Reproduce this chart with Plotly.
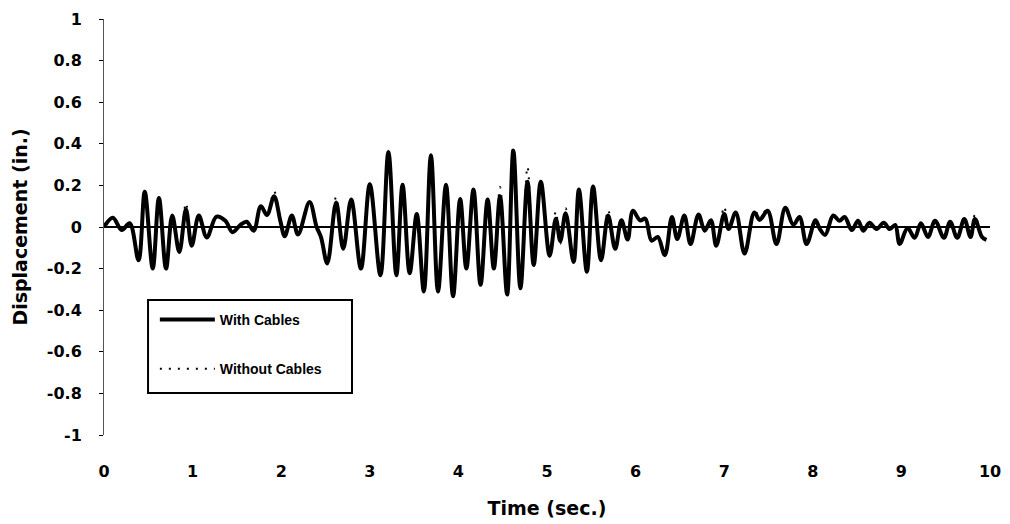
import plotly.graph_objects as go

# ---- data ----
time_s = [0.00, 0.10, 0.20, 0.29, 0.39, 0.46, 0.55, 0.62, 0.70, 0.77, 0.85, 0.925, 0.99, 1.07, 1.16,
          1.27, 1.37, 1.45, 1.54, 1.61, 1.69, 1.77, 1.84, 1.92, 1.99, 2.04, 2.12, 2.19, 2.32, 2.40,
          2.45, 2.52, 2.62, 2.70, 2.79, 2.90, 3.00, 3.12, 3.21, 3.30, 3.37, 3.45, 3.53, 3.61, 3.69,
          3.77, 3.86, 3.94, 4.02, 4.09, 4.17, 4.25, 4.33, 4.40, 4.47, 4.55, 4.62, 4.70, 4.78, 4.85,
          4.93, 5.03, 5.10, 5.15, 5.21, 5.30, 5.36, 5.45, 5.52, 5.61, 5.69, 5.77, 5.84, 5.91, 5.97,
          6.05, 6.11, 6.18, 6.25, 6.33, 6.41, 6.47, 6.55, 6.62, 6.71, 6.78, 6.85, 6.91, 7.00, 7.05,
          7.13, 7.23, 7.34, 7.40, 7.49, 7.59, 7.69, 7.78, 7.85, 7.93, 8.03, 8.08, 8.14, 8.23, 8.30,
          8.36, 8.44, 8.51, 8.57, 8.64, 8.72, 8.80, 8.87, 8.93, 8.98, 9.07, 9.15, 9.22, 9.30, 9.38,
          9.48, 9.55, 9.63, 9.71, 9.78, 9.83, 9.91, 9.96]

with_cables = [0.000, 0.045, -0.015, 0.018, -0.160, 0.170, -0.200, 0.140, -0.200, 0.055, -0.120, 0.085, -0.090, 0.055, -0.050,
               0.050, 0.030, -0.025, 0.010, 0.025, -0.018, 0.100, 0.058, 0.148, 0.030, -0.045, 0.055, -0.036, 0.120, 0.000,
               -0.050, -0.175, 0.118, -0.105, 0.132, -0.200, 0.205, -0.232, 0.360, -0.232, 0.203, -0.222, 0.062, -0.310, 0.345,
               -0.310, 0.203, -0.333, 0.135, -0.200, 0.180, -0.278, 0.132, -0.200, 0.148, -0.325, 0.368, -0.295, 0.218, -0.183,
               0.218, -0.138, 0.040, -0.068, 0.066, -0.168, 0.180, -0.215, 0.195, -0.160, 0.055, -0.105, 0.032, -0.060, 0.078,
               0.032, 0.040, -0.066, -0.048, -0.136, 0.048, -0.058, 0.055, -0.082, 0.060, -0.018, 0.032, -0.090, 0.062, -0.010,
               0.070, -0.128, 0.070, 0.034, 0.078, -0.082, 0.092, 0.010, 0.048, -0.082, 0.032, -0.010, -0.038, 0.055, 0.030,
               0.048, -0.015, 0.030, -0.018, 0.020, -0.010, 0.020, -0.010, 0.010, -0.082, -0.005, -0.052, 0.018, -0.048, 0.030,
               -0.052, 0.025, -0.052, 0.038, -0.048, 0.038, -0.048, -0.062]

without_cables = [0.000, 0.045, -0.015, 0.018, -0.160, 0.170, -0.200, 0.140, -0.200, 0.060, -0.120, 0.115, -0.090, 0.055, -0.050,
                  0.050, 0.030, -0.025, 0.010, 0.025, -0.018, 0.100, 0.058, 0.170, 0.030, -0.045, 0.055, -0.036, 0.120, 0.000,
                  -0.060, -0.175, 0.145, -0.105, 0.132, -0.200, 0.205, -0.232, 0.360, -0.232, 0.203, -0.222, 0.062, -0.310, 0.345,
                  -0.310, 0.203, -0.333, 0.135, -0.200, 0.180, -0.278, 0.132, -0.200, 0.192, -0.325, 0.385, -0.295, 0.290, -0.183,
                  0.218, -0.138, 0.075, -0.080, 0.090, -0.168, 0.180, -0.215, 0.195, -0.160, 0.082, -0.105, 0.032, -0.060, 0.078,
                  0.032, 0.040, -0.066, -0.048, -0.136, 0.048, -0.058, 0.055, -0.082, 0.060, -0.018, 0.032, -0.090, 0.098, -0.010,
                  0.070, -0.128, 0.070, 0.060, 0.078, -0.082, 0.092, 0.010, 0.048, -0.082, 0.032, -0.010, -0.038, 0.055, 0.030,
                  0.048, -0.015, 0.030, -0.018, 0.020, -0.010, 0.020, -0.010, 0.010, -0.082, -0.005, -0.052, 0.018, -0.048, 0.030,
                  -0.052, 0.025, -0.052, 0.038, -0.048, 0.058, -0.048, -0.062]

x_ticks = [0, 1, 2, 3, 4, 5, 6, 7, 8, 9, 10]
y_ticks = [1, 0.8, 0.6, 0.4, 0.2, 0, -0.2, -0.4, -0.6, -0.8, -1]
y_tick_labels = ["1", "0.8", "0.6", "0.4", "0.2", "0", "-0.2", "-0.4", "-0.6", "-0.8", "-1"]

FONT = "Liberation Sans, Arial, sans-serif"
HEAVY = "DejaVu Sans, Verdana, sans-serif"

fig = go.Figure()
fig.add_trace(go.Scatter(
    x=time_s, y=with_cables, mode="lines", name="With Cables",
    legendgroup="a",
    line=dict(color="black", width=4, shape="spline", smoothing=1.0),
))
fig.add_trace(go.Scatter(
    x=time_s, y=without_cables, mode="lines", name="Without Cables",
    legendgroup="b",
    line=dict(color="black", width=2, dash="2px,7px", shape="spline", smoothing=1.0),
))

fig.update_layout(
    width=1010, height=524,
    margin=dict(l=104, r=20, t=19, b=89),
    paper_bgcolor="white", plot_bgcolor="white",
    font=dict(family=FONT, color="black"),
    showlegend=True,
    legend=dict(
        x=0.0574, y=0.315, xanchor="left", yanchor="top",
        bgcolor="rgba(0,0,0,0)", borderwidth=0,
        itemwidth=55, tracegroupgap=28, traceorder="grouped",
        font=dict(family=FONT, size=14, weight="bold"),
    ),
    xaxis=dict(
        range=[0, 10], tickvals=x_ticks, ticktext=[str(v) for v in x_ticks],
        showline=False, showgrid=False, zeroline=False, ticks="",
        automargin=False,
        ticklabelstandoff=25,
        tickfont=dict(family=HEAVY, size=16, weight="bold"),
        title=dict(text="Time (sec.)", font=dict(family=HEAVY, size=19, weight="bold"), standoff=21),
    ),
    yaxis=dict(
        range=[-1, 1], tickvals=y_ticks, ticktext=y_tick_labels,
        showline=True, linecolor="#555", linewidth=1,
        ticks="outside", ticklen=4, tickcolor="black",
        automargin=False,
        ticklabelstandoff=14,
        showgrid=False, zeroline=True, zerolinecolor="black", zerolinewidth=1.5,
        tickfont=dict(family=HEAVY, size=16, weight="bold"),
        title=dict(text="Displacement (in.)", font=dict(family=HEAVY, size=19, weight="bold"), standoff=14),
    ),
    shapes=[dict(type="rect", xref="paper", yref="paper",
                 x0=0.0497, x1=0.2799, y0=0.101, y1=0.3245,
                 line=dict(color="black", width=2), fillcolor="rgba(0,0,0,0)")],
)

fig.write_html("out.html")
